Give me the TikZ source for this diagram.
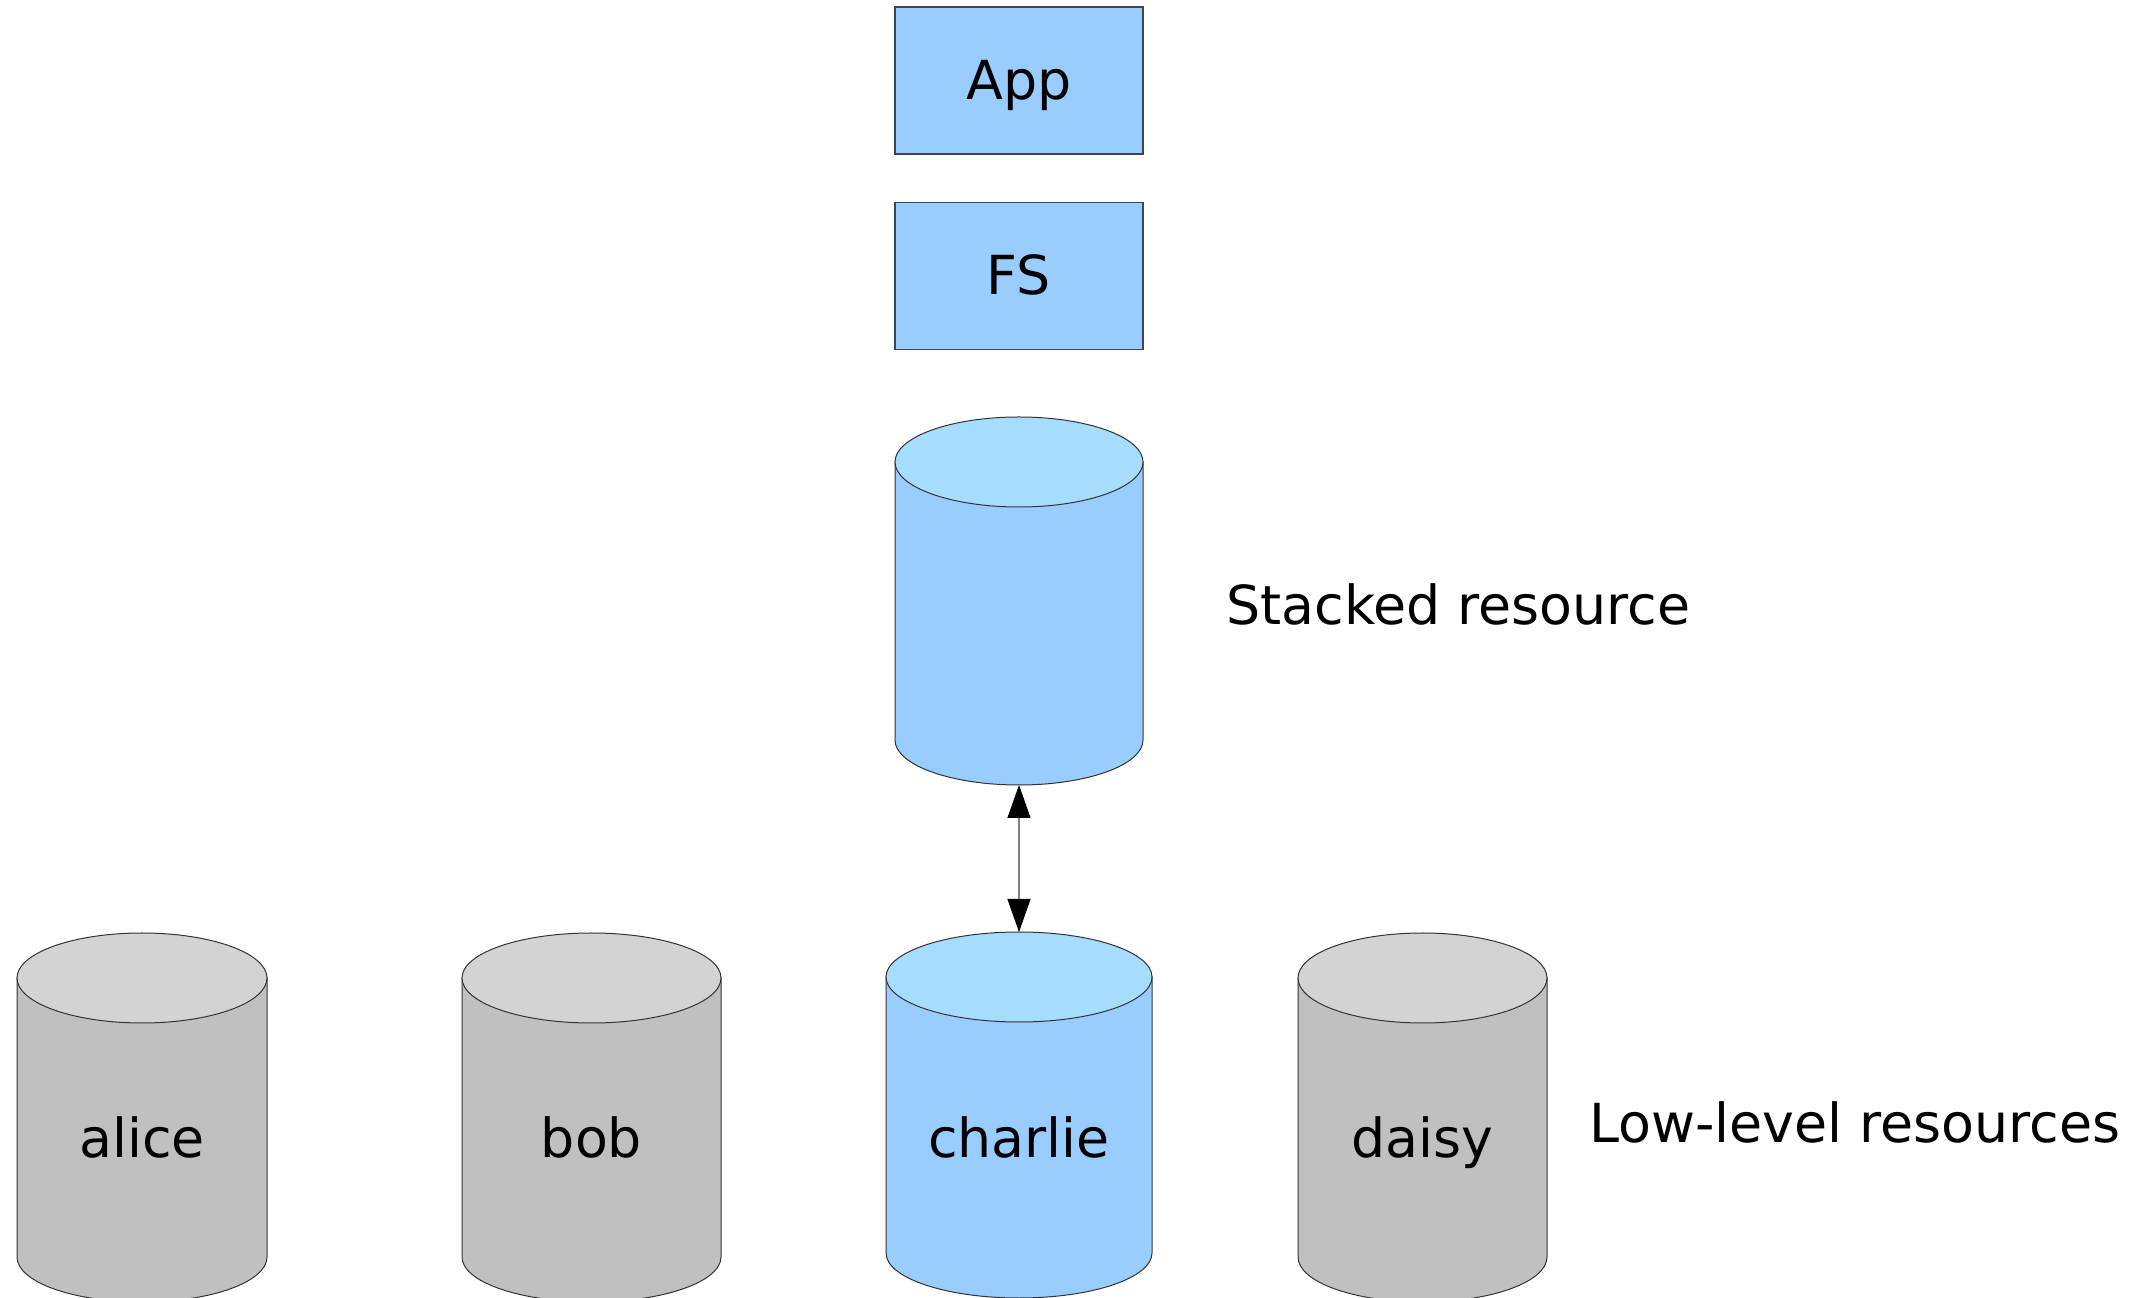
\documentclass[tikz,border=0pt]{standalone}
\usepackage{fontspec}
\setmainfont{DejaVu Sans}
\usetikzlibrary{arrows.meta}
\definecolor{boxblue}{HTML}{99CCFF}
\definecolor{topblue}{HTML}{A6DDFF}
\definecolor{bodygray}{HTML}{C0C0C0}
\definecolor{topgray}{HTML}{D3D3D3}
\definecolor{boxedge}{HTML}{3C4650}
\definecolor{cyledge}{HTML}{333333}
\definecolor{linegray}{HTML}{808080}
\newcommand\mycyl[7]{%
  \filldraw[cylline, fill=#5] (#1pt-#2pt,#3pt) -- (#1pt-#2pt,#4pt)
    arc[start angle=180,end angle=360,x radius=#2pt,y radius=22.5pt]
    -- (#1pt+#2pt,#3pt) -- cycle;
  \filldraw[cylline, fill=#6] (#1pt,#3pt) ellipse[x radius=#2pt, y radius=22.5pt];
  \coordinate (#7-top) at (#1pt,#3pt+22.5pt);
  \coordinate (#7-bot) at (#1pt,#4pt-22.5pt);
}
\tikzset{
  cylline/.style={draw=cyledge, line width=0.5pt},
  bluebox/.style={draw=boxedge, line width=0.6pt, fill=boxblue, minimum width=124pt, minimum height=73.5pt, inner sep=0pt},
  lbl/.style={font=\fontsize{26.9pt}{30pt}\selectfont, inner sep=0pt, text=black},
  arrowline/.style={draw=linegray, line width=0.6pt, {Triangle[length=16.5pt,width=11.5pt,fill=black,color=black]}-{Triangle[length=16.5pt,width=11.5pt,fill=black,color=black]}}
}
\begin{document}
\begin{tikzpicture}
\useasboundingbox (0,0) rectangle (1077pt,648.5pt);
% boxes
\node[bluebox] (app) at (509.5pt,608.25pt) {};
\node[lbl, anchor=base] (apptext) at (509.5pt,598.5pt) {App};
\node[bluebox] (fs) at (509.5pt,510.5pt) {};
\node[lbl, anchor=base] (fstext) at (509.5pt,501pt) {FS};
% cylinders
\mycyl{509.5}{62}{417.5}{278.5}{boxblue}{topblue}{stacked}
\mycyl{71}{62.5}{159.5}{20}{bodygray}{topgray}{alicec}
\mycyl{295.75}{64.75}{159.5}{20}{bodygray}{topgray}{bobc}
\mycyl{509.5}{66.5}{160}{22}{boxblue}{topblue}{charliec}
\mycyl{711.25}{62.25}{159.5}{20}{bodygray}{topgray}{daisyc}
\node[lbl, anchor=base] (alice) at (71pt,70pt) {alice};
\node[lbl, anchor=base] (bob) at (295.75pt,70pt) {bob};
\node[lbl, anchor=base] (charlie) at (509.5pt,70pt) {charlie};
\node[lbl, anchor=base] (daisy) at (711.25pt,70pt) {daisy};
% arrow
\draw[arrowline] (stacked-bot) -- (charliec-top);
% side labels
\node[lbl, anchor=base west] (stackedlbl) at (613pt,336pt) {Stacked resource};
\node[lbl, anchor=base west] (lowlbl) at (794.5pt,77.5pt) {Low-level resources};
\end{tikzpicture}
\end{document}
